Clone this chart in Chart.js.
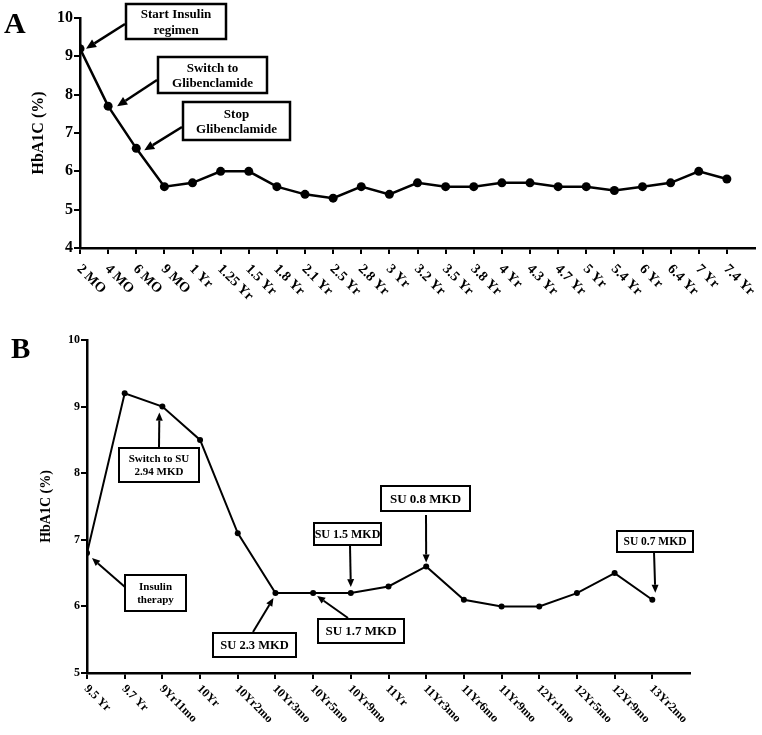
<!DOCTYPE html>
<html>
<head>
<meta charset="utf-8">
<script src="https://cdn.jsdelivr.net/npm/chart.js@4.4.1/dist/chart.umd.min.js"></script>
<style>
  body { margin: 0; background: #fff; width: 762px; height: 735px; position: relative; overflow: hidden; }
  canvas { position: absolute; left: 0; }
  .tag { position: absolute; font: bold 30px "Liberation Serif", serif; color: #000; line-height: 1; }
</style>
</head>
<body>
<canvas id="chartA" width="762" height="310" style="top:0"></canvas>
<canvas id="chartB" width="762" height="405" style="top:330px"></canvas>
<div class="tag" style="left:4px;top:8px">A</div>
<div class="tag" style="left:11px;top:334px;font-size:29px">B</div>
<script>
// panel A: first regimen
const timesA = ['2 MO', '4 MO', '6 MO', '9 MO', '1 Yr', '1.25 Yr', '1.5 Yr', '1.8 Yr', '2.1 Yr', '2.5 Yr',
  '2.8 Yr', '3 Yr', '3.2 Yr', '3.5 Yr', '3.8 Yr', '4 Yr', '4.3 Yr', '4.7 Yr', '5 Yr', '5.4 Yr',
  '6 Yr', '6.4 Yr', '7 Yr', '7.4 Yr'];
const hba1cA = [9.2, 7.7, 6.6, 5.6, 5.7, 6.0, 6.0, 5.6, 5.4, 5.3,
  5.6, 5.4, 5.7, 5.6, 5.6, 5.7, 5.7, 5.6, 5.6, 5.5,
  5.6, 5.7, 6.0, 5.8];

// panel B: later follow-up
const timesB = ['9.5 Yr', '9.7 Yr', '9Yr11mo', '10Yr', '10Yr2mo', '10Yr3mo', '10Yr5mo', '10Yr9mo',
  '11Yr', '11Yr3mo', '11Yr6mo', '11Yr9mo', '12Yr1mo', '12Yr5mo', '12Yr9mo', '13Yr2mo'];
const hba1cB = [6.8, 9.2, 9.0, 8.5, 7.1, 6.2, 6.2, 6.2, 6.3, 6.6, 6.1, 6.0, 6.0, 6.2, 6.5, 6.1];

const SERIF = '"Liberation Serif", "Times New Roman", serif';

// callout boxes: point index, text, box in canvas px, arrow tail, tip offset from the point
const notesA = [
  { i: 0, lines: ['Start Insulin', 'regimen'], size: 13, box: [126, 4, 226, 39], tail: [125, 24], tip: [6, 0] },
  { i: 1, lines: ['Switch to', 'Glibenclamide'], size: 13, box: [158, 57, 267, 93], tail: [157, 80], tip: [9, 0] },
  { i: 2, lines: ['Stop', 'Glibenclamide'], size: 13, box: [183, 102, 290, 140], tail: [182, 127], tip: [8, 2] }
];
const notesB = [
  { i: 0, lines: ['Insulin', 'therapy'], size: 11, box: [125, 245, 186, 281], tail: [125, 257], tip: [5, 5] },
  { i: 2, lines: ['Switch to SU', '2.94 MKD'], size: 11, box: [119, 118, 199, 152], tail: [159, 118], tip: [-3, 6] },
  { i: 5, lines: ['SU 2.3 MKD'], size: 12.5, box: [213, 303, 296, 327], tail: [253, 302], tip: [-2, 5] },
  { i: 6, lines: ['SU 1.7 MKD'], size: 13, box: [318, 289, 404, 313], tail: [348, 288], tip: [4, 3] },
  { i: 7, lines: ['SU 1.5 MKD'], size: 12, box: [314, 193, 381, 215], tail: [350, 215], tip: [0, -6] },
  { i: 9, lines: ['SU 0.8 MKD'], size: 13, box: [381, 156, 470, 181], tail: [426, 185], tip: [0, -4] },
  { i: 15, lines: ['SU 0.7 MKD'], size: 11.5, box: [617, 201, 693, 222], tail: [654, 222], tip: [3, -7] }
];

function drawArrow(ctx, x0, y0, x1, y1, lw, hl, hw) {
  const a = Math.atan2(y1 - y0, x1 - x0);
  const bx = x1 - hl * Math.cos(a), by = y1 - hl * Math.sin(a);
  ctx.lineWidth = lw;
  ctx.beginPath(); ctx.moveTo(x0, y0); ctx.lineTo(bx, by); ctx.stroke();
  ctx.beginPath();
  ctx.moveTo(x1, y1);
  ctx.lineTo(bx + hw * Math.sin(a), by - hw * Math.cos(a));
  ctx.lineTo(bx - hw * Math.sin(a), by + hw * Math.cos(a));
  ctx.closePath(); ctx.fill();
}

// slanted x labels (text runs down to the right from each tick)
function slantLabels(labels, font, dx, dy) {
  return {
    id: 'slant',
    afterDraw(chart) {
      const { ctx, scales: { x } } = chart;
      ctx.save();
      ctx.font = font; ctx.fillStyle = '#000';
      ctx.textAlign = 'left'; ctx.textBaseline = 'middle';
      labels.forEach((t, i) => {
        ctx.save();
        ctx.translate(x.getPixelForValue(i) + dx, x.top + dy);
        ctx.rotate(Math.PI / 4);
        ctx.fillText(t, 0, 0);
        ctx.restore();
      });
      ctx.restore();
    }
  };
}

function callouts(notes, lw, hl, hw) {
  return {
    id: 'callouts',
    afterDraw(chart) {
      const ctx = chart.ctx;
      const pts = chart.getDatasetMeta(0).data;
      ctx.save();
      ctx.strokeStyle = '#000';
      notes.forEach(n => {
        const [x0, y0, x1, y1] = n.box;
        ctx.fillStyle = '#fff';
        ctx.lineWidth = lw;
        ctx.fillRect(x0, y0, x1 - x0, y1 - y0);
        ctx.strokeRect(x0, y0, x1 - x0, y1 - y0);
        ctx.fillStyle = '#000';
        ctx.font = `bold ${n.size}px ${SERIF}`;
        ctx.textAlign = 'center'; ctx.textBaseline = 'middle';
        const cx = (x0 + x1) / 2, cy = (y0 + y1) / 2 + 1, lh = n.size * 1.2;
        n.lines.forEach((t, k) => ctx.fillText(t, cx, cy + (k - (n.lines.length - 1) / 2) * lh));
        const p = pts[n.i];
        drawArrow(ctx, n.tail[0], n.tail[1], p.x + n.tip[0], p.y + n.tip[1], lw, hl, hw);
      });
      ctx.restore();
    }
  };
}

function panel(id, labels, values, st) {
  const axisGrid = { drawOnChartArea: false, drawTicks: true, tickLength: 6, color: '#000', lineWidth: 2 };
  const axisBorder = { display: true, color: '#000', width: st.axisLw };
  return new Chart(document.getElementById(id), {
    type: 'line',
    data: {
      datasets: [{
        data: values.map((v, i) => ({ x: i, y: v })),
        borderColor: '#000', backgroundColor: '#000',
        borderWidth: st.lineW, pointRadius: st.dot, pointHoverRadius: st.dot,
        pointBorderWidth: 0, tension: 0
      }]
    },
    options: {
      responsive: false, animation: false, events: [],
      layout: { padding: st.pad },
      plugins: { legend: { display: false }, tooltip: { enabled: false } },
      scales: {
        x: {
          type: 'linear', min: 0, max: labels.length,
          afterBuildTicks: s => { s.ticks = labels.map((_, i) => ({ value: i })); },
          afterFit: s => { s.height = st.xH; },
          ticks: { display: false },
          grid: axisGrid, border: axisBorder
        },
        y: {
          min: st.yMin, max: 10,
          afterFit: s => { s.width = st.yW; },
          ticks: { stepSize: 1, color: '#000', padding: 1, font: { family: SERIF, size: st.yTick, weight: 'bold' } },
          grid: axisGrid, border: axisBorder,
          title: {
            display: true, text: 'HbA1C (%)', color: '#000',
            font: { family: SERIF, size: st.titleSize, weight: 'bold' },
            padding: { top: st.titlePad, bottom: 0 }
          }
        }
      }
    },
    plugins: [slantLabels(labels, `bold ${st.xTick}px ${SERIF}`, st.dx, st.dy), callouts(st.notes, st.boxLw, st.hl, st.hw)]
  });
}

panel('chartA', timesA, hba1cA, {
  pad: { top: 18, right: 7, left: 0, bottom: 0 }, xH: 62, yW: 80, yMin: 4,
  lineW: 2.5, dot: 4.5, axisLw: 2.5, yTick: 16, xTick: 14, titleSize: 16, titlePad: 29,
  dx: -1, dy: 19, notes: notesA, boxLw: 2.5, hl: 10, hw: 4.5
});

panel('chartB', timesB, hba1cB, {
  pad: { top: 10, right: 72, left: 0, bottom: 0 }, xH: 62, yW: 87, yMin: 5,
  lineW: 2, dot: 3, axisLw: 2.5, yTick: 12, xTick: 12, titleSize: 14, titlePad: 38,
  dx: -1, dy: 14, notes: notesB, boxLw: 2, hl: 8, hw: 3.5
});
</script>
</body>
</html>
